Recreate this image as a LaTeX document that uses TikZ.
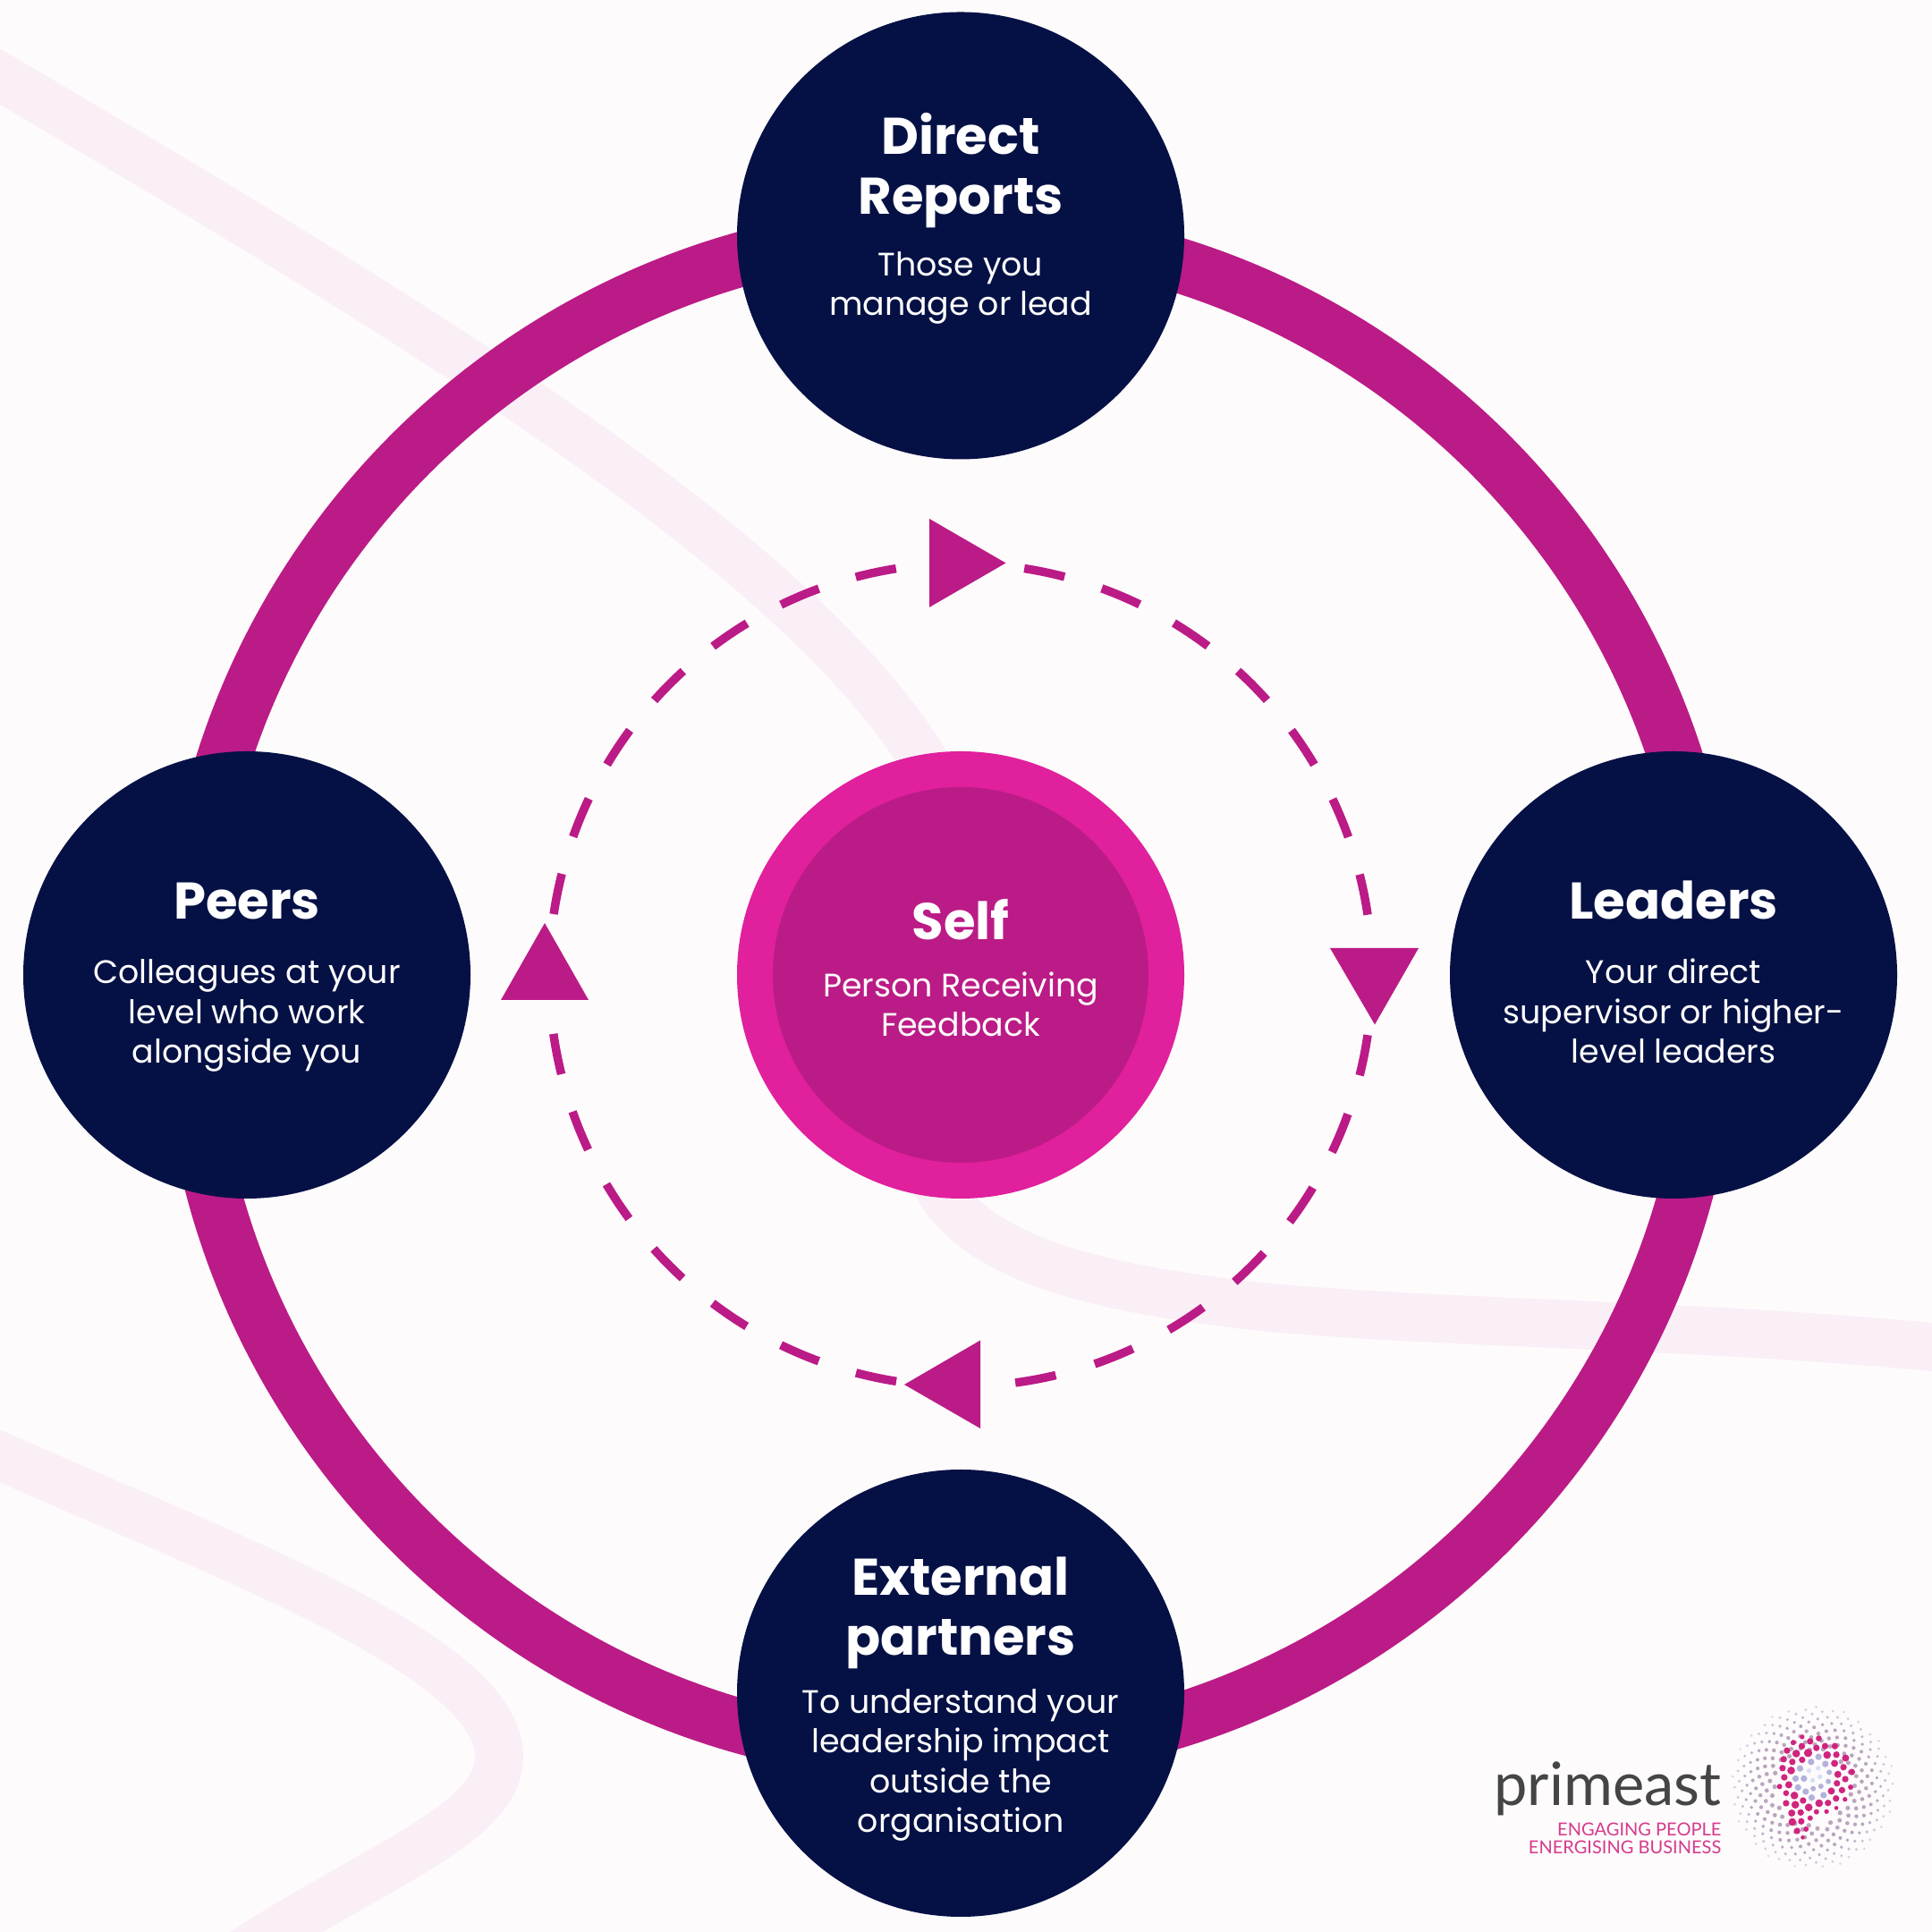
\documentclass[tikz,border=0pt]{standalone}
\usepackage{fontspec}
\setmainfont{Poppins}
\newfontfamily\logofont{Lato}
\usetikzlibrary{calc}
\definecolor{paper}{HTML}{FEFBFC}
\definecolor{wave}{HTML}{FAEFF6}
\definecolor{plum}{HTML}{BB1B86}
\definecolor{rim}{HTML}{E0209C}
\definecolor{navy}{HTML}{051145}
\definecolor{logopink}{HTML}{D0257F}
\definecolor{logomauve}{HTML}{B9A6BE}
\definecolor{logopale}{HTML}{DDE1EF}
\definecolor{logoblue}{HTML}{B3B2DC}
\definecolor{logoice}{HTML}{D5E0F5}

\begin{document}
\begin{tikzpicture}[node distance=8cm,
  wave line/.style={draw=wave,line width=5.4mm},
  main node/.style={circle,fill=navy,minimum size=5cm,inner sep=0pt},
  head/.style={anchor=base,align=center,inner sep=0pt,text=white,
  font=\fontsize{16.4}{19.1}\selectfont\bfseries},
  sub/.style={anchor=base,align=center,inner sep=0pt,text=white,
  font=\fontsize{10.35}{12.6}\selectfont}]

  \useasboundingbox (0,0) rectangle (21.6,21.6);
  \fill[paper] (0,0) rectangle (21.6,21.6);

  % waves behind everything
  \draw[wave line] (-0.2,20.86) .. controls (4.5,18.1) and (8.8,15.5) .. (10.29,13.16)
    .. controls (11.2,11.7) and (9.9,9.3) .. (10.5,8.3)
    .. controls (11.0,7.5) and (12.3,7.2) .. (14,7.0)
    .. controls (16,6.8) and (19,6.8) .. (21.8,6.52);
  \draw[wave line] (-0.2,5.41) .. controls (2.5,4.2) and (5.58,3.1) .. (5.58,1.96)
    .. controls (5.58,1.2) and (4.2,.75) .. (2.6,-.3);

  \coordinate (ring) at (10.62,10.5);
  \draw[plum,line width=6.1mm] (ring) circle[radius=8.525];

  \node[main node,fill=rim] (S) at (10.74,10.70) {};
  \node[main node,fill=plum,minimum size=4.2cm] (Sin) at (S) {};
  \node[main node] (D) [above of=S,node distance=8.265cm] {};
  \node[main node] (L) [right of=S,node distance=7.97cm] {};
  \node[main node] (E) [below of=S,node distance=8.03cm] {};
  \node[main node] (P) [left of=S,node distance=7.98cm] {};

  \node[head] (Stitle) at ($(S)+(0,.39)$) {Self};
  \node[sub] (Ssub) at ($(S)+(0,-.685)$) {Person Receiving\\Feedback};
  \node[head] (Dtitle) at ($(D)+(0,.24)$) {Direct\\Reports};
  \node[sub] (Dsub) at ($(D)+(0,-.89)$) {Those you\\manage or lead};
  \node[head] (Ltitle) at ($(L)+(0,.625)$) {Leaders};
  \node[sub] (Lsub) at ($(L)+(0,-.985)$) {Your direct\\supervisor or higher-\\level leaders};
  \node[head] (Etitle) at ($(E)+(0,.42)$) {External\\partners};
  \node[sub] (Esub) at ($(E)+(0,-1.555)$) {To understand your\\leadership impact\\outside the\\organisation};
  \node[head] (Ptitle) at ($(P)+(0,.62)$) {Peers};
  \node[sub] (Psub) at ($(P)+(0,-.985)$) {Colleagues at your\\level who work\\alongside you};

  % dashed loop, one arc per quarter
  \foreach \from/\to/\gap in {81.1/8.4/4.36,-8.4/-82.4/4.53,261/188.2/4.37,171.5/99/4.33}
    \draw[plum,line width=.95mm,dash pattern=on 4.6mm off \gap mm]
      (S) ++(\from:4.6) arc[start angle=\from,end angle=\to,radius=4.6];

  \fill[plum] (10.39,15.80) -- (11.245,15.305) -- (10.39,14.81) -- cycle;
  \fill[plum] (14.87,11.00) -- (15.86,11.00) -- (15.37,10.145) -- cycle;
  \fill[plum] (10.11,6.12) -- (10.96,6.615) -- (10.96,5.63) -- cycle;
  \fill[plum] (6.09,11.28) -- (5.60,10.42) -- (6.58,10.42) -- cycle;

  % logo
  \node[anchor=base east,inner sep=0pt,text=black!73,font=\logofont\fontsize{19}{20}\selectfont]
    (brand) at (19.25,1.41) {primeast};
  \node[anchor=base east,inner sep=0pt,text=logopink!90,font=\logofont\fontsize{5.7}{6}\selectfont]
    (tag) at (19.25,1.07) {ENGAGING PEOPLE};
  \node[anchor=base east,inner sep=0pt,text=logopink!90,font=\logofont\fontsize{5.7}{6}\selectfont]
    (tagb) at (19.25,0.87) {ENERGISING BUSINESS};

  \begin{scope}[shift={(16.2,2.8)},x=.003333cm,y=-.003333cm]
    \foreach \n in {70,...,336} {
      \pgfmathsetmacro\ang{mod(\n,2)*180-42.492*\n}
      \pgfmathsetmacro\rad{15*sqrt(\n)}
      \pgfmathsetmacro\mix{min(100,max(0,(280-\rad)*1.6))}
      \pgfmathsetmacro\dot{11-.024*\rad}
      \fill[logomauve!\mix!logopale] ({1222+\rad*cos(\ang)},{355+\rad*sin(\ang)}) circle[radius=\dot];
    }
    \foreach \a/\b/\c in {1187/186/8,1243/191/10,1157/205/9,1214/201/11,1186/217/11,1235/223/11,
      1264/217/11,1297/217/11,1136/232/11,1167/242/13,1207/240/14,1271/247/13,1302/246/11,
      1333/257/12,1125/261/11,1154/270/11,1187/263/11,1296/275/12,1326/288/11,1121/291/11,
      1150/299/13,1354/304/11,1307/312/12,1127/322/11,1332/328/11,1304/342/11,1111/353/9,
      1142/347/12,1350/355/9,1321/365/11,1285/368/12,1133/375/10,1161/383/13,1301/393/11,
      1331/396/8,1190/400/11,1133/409/11,1164/414/13,1244/409/13,1274/408/11,1209/423/13,
      1302/425/7,1152/442/12,1182/440/11,1235/438/9,1269/437/8,1214/459/9,1154/472/13,
      1184/470/11,1170/502/11,1200/496/9,1189/524/7}
      \fill[logopink] (\a,\b) circle[radius=\c];
    \foreach \a/\b/\c in {1242/253/11,1217/270/11,1265/277/11,1180/292/11,1278/305/9,1165/326/11,
      1193/326/11,1275/336/9,1173/356/11,1199/370/11,1250/352/9,1224/360/9,1219/390/11,1259/382/11}
      \fill[logoblue] (\a,\b) circle[radius=\c];
    \foreach \a/\b in {1210/300,1241/291,1222/332,1247/320}
      \fill[logoice] (\a,\b) circle[radius=8];
  \end{scope}
\end{tikzpicture}
\end{document}
